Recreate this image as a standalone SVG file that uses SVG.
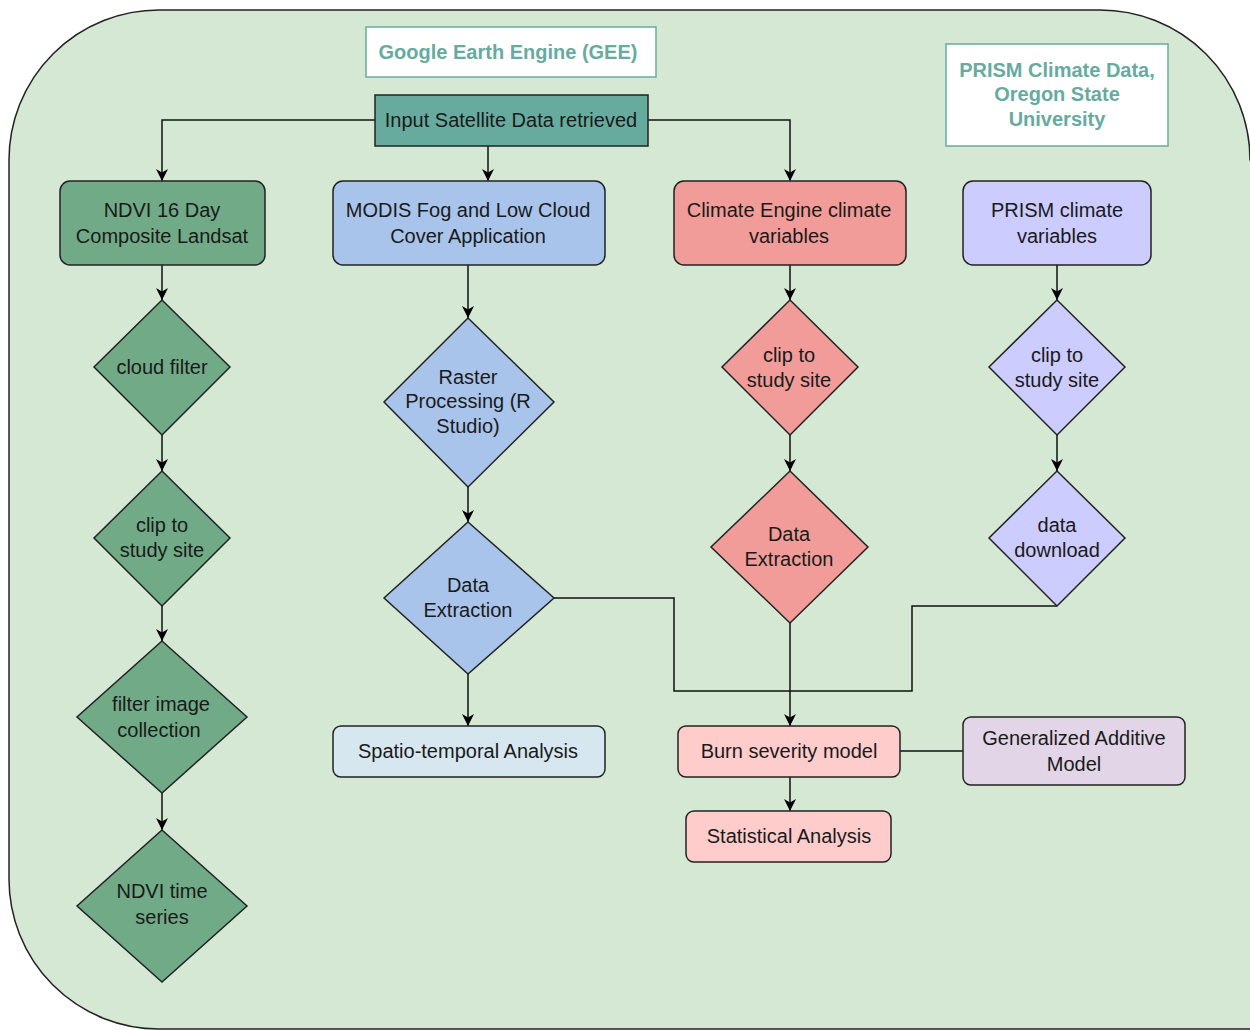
<svg xmlns="http://www.w3.org/2000/svg" width="1250" height="1030" viewBox="0 0 1250 1030">
<defs>
<marker id="arr" viewBox="0 0 10 10" refX="10" refY="5" markerWidth="12" markerHeight="12" markerUnits="userSpaceOnUse" orient="auto">
<path d="M0,0 L10,5 L0,10 L3,5 Z" fill="#000"/>
</marker>
<style>
text{font-family:"Liberation Sans",Arial,Helvetica,sans-serif;font-size:20px;fill:#1a1a1a;text-anchor:middle}
.src{font-weight:bold;fill:#67AB9F}
.box{stroke:#222;stroke-width:1.5}
.edge{fill:none;stroke:#111;stroke-width:1.5}
.arrow{marker-end:url(#arr)}
.g1{fill:#71aa86}
.blue{fill:#a9c4eb}
.red{fill:#f19c99}
.pur{fill:#ccccff}
</style>
</defs>
<path d="M9,160 A150,150 0 0 1 159,10 L1100,10 A150,150 0 0 1 1250,160 L1252,160 L1252,1029 L159,1029 A150,150 0 0 1 9,879 Z" fill="#d5e8d4" stroke="#222" stroke-width="1.5"/>
<g id="edges">
<path class="edge arrow" d="M375,120 H162 V181"/>
<path class="edge arrow" d="M488,146 V181"/>
<path class="edge arrow" d="M648,120 H790 V181"/>
<path class="edge arrow" d="M162,265 V300"/>
<path class="edge arrow" d="M162,435 V471"/>
<path class="edge arrow" d="M162,606 V641"/>
<path class="edge arrow" d="M162,793 V830"/>
<path class="edge arrow" d="M468,265 V318"/>
<path class="edge arrow" d="M468,487 V522"/>
<path class="edge arrow" d="M468,674 V726"/>
<path class="edge" d="M554,598 H674 V691 H790"/>
<path class="edge arrow" d="M790,265 V300"/>
<path class="edge arrow" d="M790,435 V471"/>
<path class="edge arrow" d="M790,623 V726"/>
<path class="edge" d="M1057,606 H912 V691 H790"/>
<path class="edge arrow" d="M1057,265 V300"/>
<path class="edge arrow" d="M1057,435 V471"/>
<path class="edge arrow" d="M790,777 V811"/>
<path class="edge" d="M900,751 H963"/>
</g>
<g id="gee"><rect x="366" y="27" width="290" height="50" fill="#fff" stroke="#67AB9F" stroke-width="1.5"/><text class="src" x="508" y="59">Google Earth Engine (GEE)</text></g>
<g id="prism-src"><rect x="946" y="44" width="222" height="102" fill="#fff" stroke="#67AB9F" stroke-width="1.5"/><text class="src" x="1057" y="77">PRISM Climate Data,</text><text class="src" x="1057" y="101">Oregon State</text><text class="src" x="1057" y="126">University</text></g>
<g id="input"><rect class="box" x="375" y="95" width="273" height="51" fill="#67AB9F"/><text x="511" y="127">Input Satellite Data retrieved</text></g>
<g id="ndvi"><rect class="box g1" x="60" y="181" width="205" height="84" rx="10"/><text x="162" y="217">NDVI 16 Day</text><text x="162" y="243">Composite Landsat</text></g>
<g id="modis"><rect class="box blue" x="333" y="181" width="272" height="84" rx="10"/><text x="468" y="217">MODIS Fog and Low Cloud</text><text x="468" y="243">Cover Application</text></g>
<g id="climate"><rect class="box red" x="674" y="181" width="232" height="84" rx="10"/><text x="789" y="217">Climate Engine climate</text><text x="789" y="243">variables</text></g>
<g id="prism"><rect class="box pur" x="963" y="181" width="188" height="84" rx="10"/><text x="1057" y="217">PRISM climate</text><text x="1057" y="243">variables</text></g>
<g id="cloud-filter"><polygon class="box g1" points="162,300 230,367 162,435 94,367"/><text x="162" y="374">cloud filter</text></g>
<g id="clip-ndvi"><polygon class="box g1" points="162,471 230,538 162,606 94,538"/><text x="162" y="532">clip to</text><text x="162" y="557">study site</text></g>
<g id="filter-coll"><polygon class="box g1" points="162,641 247,717 162,793 77,717"/><text x="161" y="711">filter image</text><text x="159" y="737">collection</text></g>
<g id="ndvi-ts"><polygon class="box g1" points="162,830 247,906 162,982 77,906"/><text x="162" y="898">NDVI time</text><text x="162" y="924">series</text></g>
<g id="raster"><polygon class="box blue" points="468,318 554,402 468,487 384,402"/><text x="468" y="384">Raster</text><text x="468" y="408">Processing (R</text><text x="468" y="433">Studio)</text></g>
<g id="extract-blue"><polygon class="box blue" points="468,522 554,598 468,674 384,598"/><text x="468" y="592">Data</text><text x="468" y="617">Extraction</text></g>
<g id="spatio"><rect class="box" x="333" y="726" width="272" height="51" rx="8" fill="#d6e7f0"/><text x="468" y="758">Spatio-temporal Analysis</text></g>
<g id="clip-red"><polygon class="box red" points="790,300 858,367 790,435 722,367"/><text x="789" y="362">clip to</text><text x="789" y="387">study site</text></g>
<g id="extract-red"><polygon class="box red" points="790,471 868,547 790,623 711,547"/><text x="789" y="541">Data</text><text x="789" y="566">Extraction</text></g>
<g id="clip-pur"><polygon class="box pur" points="1057,300 1125,367 1057,435 989,367"/><text x="1057" y="362">clip to</text><text x="1057" y="387">study site</text></g>
<g id="download"><polygon class="box pur" points="1057,471 1125,538 1057,606 989,538"/><text x="1057" y="532">data</text><text x="1057" y="557">download</text></g>
<g id="burn"><rect class="box" x="678" y="726" width="222" height="51" rx="8" fill="#ffcccc"/><text x="789" y="758">Burn severity model</text></g>
<g id="stat"><rect class="box" x="686" y="811" width="205" height="51" rx="8" fill="#ffcccc"/><text x="789" y="843">Statistical Analysis</text></g>
<g id="gam"><rect class="box" x="963" y="717" width="222" height="68" rx="8" fill="#e1d5e7"/><text x="1074" y="745">Generalized Additive</text><text x="1074" y="771">Model</text></g>
</svg>
